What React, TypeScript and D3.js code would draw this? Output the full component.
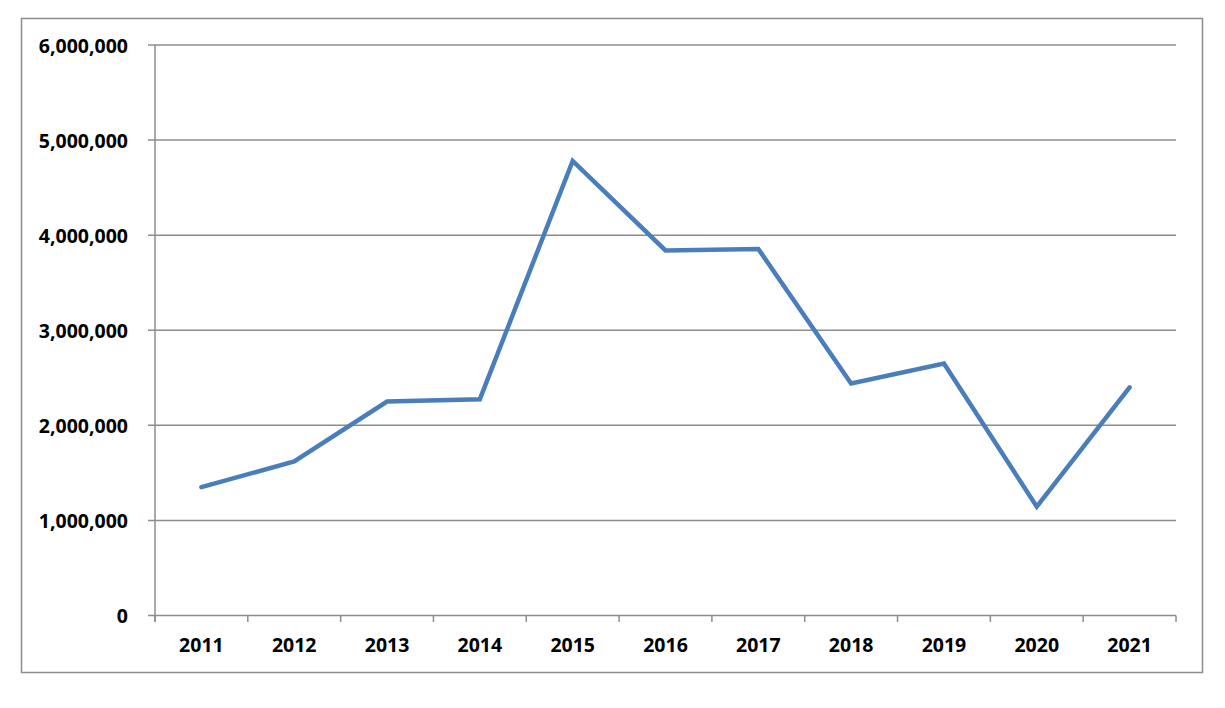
import React from "react";
import * as d3 from "d3";

const years = ["2011", "2012", "2013", "2014", "2015", "2016", "2017", "2018", "2019", "2020", "2021"];
const values = [1350000, 1620000, 2250000, 2275000, 4780000, 3840000, 3855000, 2440000, 2650000, 1145000, 2400000];
const yTicks = [0, 1000000, 2000000, 3000000, 4000000, 5000000, 6000000];

export default function App() {
  const W = 1225, H = 708;
  const left = 155, right = 1176, top = 45, bottom = 615.5;
  const x = d3.scaleBand<string>().domain(years).range([left, right]);
  const y = d3.scaleLinear().domain([0, 6000000]).range([bottom, top]);
  const fmt = d3.format(",");
  const line = d3.line<number>()
    .x((_, i) => (x(years[i]) as number) + x.bandwidth() / 2)
    .y((d) => y(d));
  const font = "'Open Sans', sans-serif";
  const grid = "#8c8c8c";
  const tickXs = years.map((yr) => x(yr) as number).concat([right]);
  return (
    <svg width={W} height={H} style={{ position: "absolute", left: 0, top: 0 }}>
      <rect x={0} y={0} width={W} height={H} fill="#fff" />
      <rect x={21.5} y={18.5} width={1181} height={654} fill="none" stroke="#8c8c8c" strokeWidth={1.5} />
      {yTicks.map((t) => (
        <g key={t}>
          <line x1={148} x2={right} y1={y(t)} y2={y(t)} stroke={grid} strokeWidth={1.5} />
          <text x={128} y={y(t)} textAnchor="end" dominantBaseline="central" fontFamily={font} fontWeight="bold" fontSize={19.5} fill="#000">
            {fmt(t)}
          </text>
        </g>
      ))}
      <line x1={left} x2={left} y1={top} y2={622} stroke={grid} strokeWidth={1.5} />
      {tickXs.map((tx, i) => (
        <line key={i} x1={tx} x2={tx} y1={bottom} y2={622} stroke={grid} strokeWidth={1.5} />
      ))}
      {years.map((yr) => (
        <text key={yr} x={(x(yr) as number) + x.bandwidth() / 2} y={644.5} textAnchor="middle" dominantBaseline="central" fontFamily={font} fontWeight="bold" fontSize={19.5} fill="#000">
          {yr}
        </text>
      ))}
      <path d={line(values) as string} fill="none" stroke="#4a7ebb" strokeWidth={4.5} strokeLinejoin="miter" strokeLinecap="round" />
    </svg>
  );
}
